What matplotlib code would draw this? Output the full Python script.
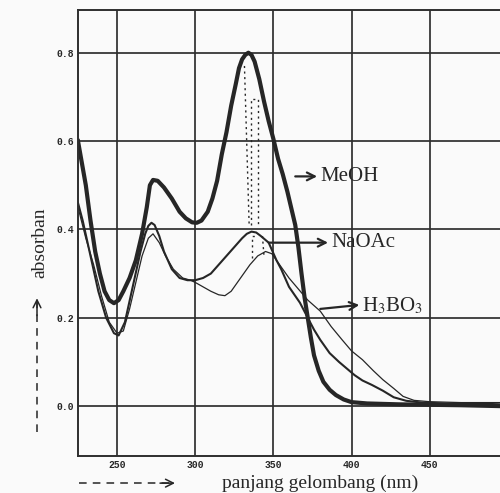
import matplotlib
matplotlib.use('Agg')
import matplotlib.pyplot as plt
from matplotlib.lines import Line2D

plt.rcParams['mathtext.fontset'] = 'stix'

# spektrum MeOH (garis tebal)
meoh_x = [225, 227, 230, 233, 236, 239, 242, 245, 248, 251, 254, 258, 262, 266, 269, 271, 273, 276,
          280, 285, 290, 294, 298, 301, 304, 308, 311, 314, 317, 320, 323, 326, 328, 330, 332, 334,
          336, 338, 341, 344, 347, 350, 353, 356, 359, 362, 364, 366, 368, 370, 372, 374, 376, 379,
          382, 386, 390, 395, 400, 410, 430, 450, 470, 495]
meoh_y = [0.60, 0.56, 0.50, 0.42, 0.35, 0.30, 0.26, 0.24, 0.233, 0.24, 0.26, 0.29, 0.33, 0.39, 0.45,
          0.50, 0.512, 0.51, 0.495, 0.47, 0.44, 0.425, 0.416, 0.415, 0.42, 0.44, 0.47, 0.51, 0.57,
          0.62, 0.68, 0.73, 0.765, 0.785, 0.795, 0.80, 0.795, 0.78, 0.74, 0.69, 0.645, 0.605, 0.56,
          0.525, 0.485, 0.44, 0.41, 0.36, 0.30, 0.245, 0.20, 0.155, 0.115, 0.08, 0.055, 0.037, 0.025,
          0.015, 0.009, 0.006, 0.004, 0.003, 0.002, 0.0]

# spektrum + NaOAc
naoac_x = [225, 228, 233, 238, 243, 248, 251, 255, 260, 265, 268, 270, 272, 274, 277, 280, 285, 290,
           295, 300, 305, 310, 315, 320, 325, 330, 333, 336, 339, 342, 347, 352, 355, 360, 367, 372,
           376, 380, 386, 392, 397, 402, 407, 413, 420, 427, 435, 445, 460, 480, 495]
naoac_y = [0.46, 0.42, 0.34, 0.26, 0.20, 0.165, 0.16, 0.19, 0.27, 0.35, 0.39, 0.408, 0.415, 0.41,
           0.385, 0.35, 0.31, 0.29, 0.285, 0.285, 0.29, 0.30, 0.32, 0.34, 0.36, 0.38, 0.39, 0.395,
           0.393, 0.385, 0.37, 0.33, 0.31, 0.27, 0.234, 0.20, 0.173, 0.15, 0.12, 0.10, 0.085, 0.07,
           0.058, 0.048, 0.035, 0.02, 0.012, 0.008, 0.006, 0.006, 0.004]

# spektrum + H3BO3
h3bo3_x = [225, 230, 235, 240, 245, 250, 254, 258, 262, 266, 270, 273, 277, 281, 286, 292, 297, 300,
           305, 310, 315, 319, 323, 327, 331, 335, 340, 345, 349, 354, 360, 366, 372, 380, 387, 394,
           400, 407, 414, 420, 427, 433, 440, 450, 470, 495]
h3bo3_y = [0.45, 0.38, 0.32, 0.25, 0.19, 0.165, 0.17, 0.22, 0.28, 0.34, 0.38, 0.39, 0.37, 0.34, 0.31,
           0.29, 0.285, 0.28, 0.27, 0.26, 0.252, 0.25, 0.26, 0.28, 0.30, 0.32, 0.34, 0.35, 0.345, 0.32,
           0.29, 0.265, 0.24, 0.215, 0.18, 0.15, 0.125, 0.105, 0.08, 0.06, 0.04, 0.022, 0.013, 0.01,
           0.008, 0.008]

# garis bantu putus-putus di sekitar puncak pita I
guide_lines = [
    ([331.5, 334.5], [0.77, 0.41]),
    ([336.0, 336.0, 340.0, 340.0], [0.41, 0.695, 0.695, 0.41]),
    ([336.5, 336.5, 339.0], [0.335, 0.385, 0.385]),
    ([343.0, 344.0], [0.385, 0.34]),
]

x_ticks = [250, 300, 350, 400, 450]
y_ticks = [0.0, 0.2, 0.4, 0.6, 0.8]
x_ticklabels = ['250', '300', '350', '400', '450']
y_ticklabels = ['0.0', '0.2', '0.4', '0.6', '0.8']

ink = '#262626'

fig = plt.figure(figsize=(5.0, 4.93), dpi=100, facecolor='#fafafa')
ax = fig.add_axes([0.156, 0.075, 0.844, 0.905])
ax.set_facecolor('#fafafa')

ax.set_xlim(225, 495)
ax.set_ylim(-0.113, 0.897)
ax.set_xticks(x_ticks)
ax.set_xticklabels(x_ticklabels)
ax.set_yticks(y_ticks)
ax.set_yticklabels(y_ticklabels)
ax.tick_params(length=0, pad=3, labelsize=7, labelcolor=ink)
for lab in ax.get_xticklabels() + ax.get_yticklabels():
    lab.set_family('Liberation Mono')
    lab.set_fontweight('bold')
ax.grid(True, color='#2e2e2e', linewidth=1.25)
for side in ['left', 'top', 'bottom']:
    ax.spines[side].set_color('#2e2e2e')
    ax.spines[side].set_linewidth(1.4)
ax.spines['right'].set_visible(False)

ax.plot(h3bo3_x, h3bo3_y, color=ink, linewidth=0.9)
ax.plot(naoac_x, naoac_y, color=ink, linewidth=1.5)
ax.plot(meoh_x, meoh_y, color=ink, linewidth=3.0, solid_joinstyle='round')

for gx, gy in guide_lines:
    ax.plot(gx, gy, color=ink, linewidth=1.0, linestyle=(0, (1.5, 2.5)))

arrow = dict(arrowstyle='->', color=ink, linewidth=1.6, shrinkA=0, shrinkB=0,
             mutation_scale=14)
ax.annotate('', xy=(378, 0.52), xytext=(364, 0.52), arrowprops=arrow)
ax.text(380, 0.52, 'MeOH', fontsize=15, family='Liberation Serif', color=ink, va='center')
ax.annotate('', xy=(385, 0.37), xytext=(347, 0.37), arrowprops=arrow)
ax.text(387, 0.37, 'NaOAc', fontsize=15, family='Liberation Serif', color=ink, va='center')
ax.annotate('', xy=(405, 0.229), xytext=(380, 0.22), arrowprops=arrow)
ax.text(407, 0.226, r'H$_3$BO$_3$', fontsize=15, family='Liberation Serif', color=ink, va='center')

# label sumbu dengan panah putus-putus
fig.text(0.64, 0.02, 'panjang gelombang (nm)', fontsize=14, family='Liberation Serif',
         color=ink, ha='center', va='center')
fig.text(0.08, 0.507, 'absorban', fontsize=14, family='Liberation Serif', color=ink,
         rotation=90, ha='center', va='center')

fig.add_artist(Line2D([0.158, 0.34], [0.02, 0.02], transform=fig.transFigure,
                      color=ink, linewidth=1.1, linestyle=(0, (5, 4))))
fig.add_artist(Line2D([0.074, 0.074], [0.124, 0.39], transform=fig.transFigure,
                      color=ink, linewidth=1.1, linestyle=(0, (5, 4))))
head = dict(arrowstyle='->', color=ink, linewidth=1.1, shrinkA=0, shrinkB=0, mutation_scale=14)
fig.add_artist(plt.Annotation('', xy=(0.35, 0.02), xytext=(0.32, 0.02),
                              xycoords='figure fraction', arrowprops=head))
fig.add_artist(plt.Annotation('', xy=(0.074, 0.395), xytext=(0.074, 0.36),
                              xycoords='figure fraction', arrowprops=head))

fig.savefig('out.png', dpi=100, facecolor=fig.get_facecolor())
